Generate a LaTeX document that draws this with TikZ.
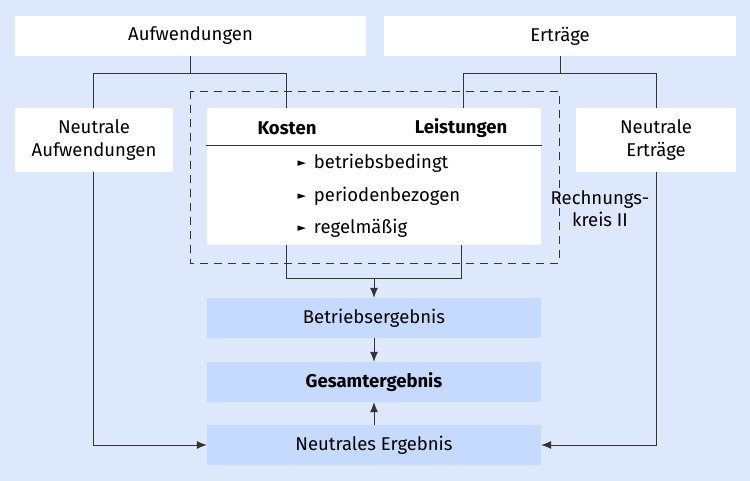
\documentclass[tikz,border=0pt]{standalone}
\usepackage{fontspec}
\setmainfont{Fira Sans}
\newfontfamily\symfont{DejaVu Sans}
\usetikzlibrary{arrows.meta}
\pgfdeclarelayer{back}
\pgfsetlayers{back,main}
\definecolor{bgblue}{RGB}{221, 232, 252}
\definecolor{resblue}{RGB}{198, 218, 253}
\definecolor{linegray}{RGB}{51, 51, 51}
\tikzset{
	box/.style={fill=white, inner sep=0, align=center, font=\fontsize{18.5pt}{23pt}\selectfont},
	resbox/.style={fill=resblue, inner sep=0, minimum width=334, minimum height=40, font=\fontsize{18.5pt}{20pt}\selectfont},
	txt/.style={font=\fontsize{18.5pt}{20pt}\selectfont},
	boldtxt/.style={font=\bfseries\fontsize{18.5pt}{20pt}\selectfont},
	conn/.style={line width=0.8pt, linegray},
	arr/.style={conn, -{Latex[length=10pt,width=8pt]}},
}
\newcommand{\bul}{{\symfont\fontsize{11pt}{11pt}\selectfont\raisebox{2pt}{►}}}
\begin{document}
\begin{tikzpicture}[x=1pt,y=-1pt,line cap=rect]
	% top boxes
	\node [box, minimum width=351, minimum height=40] (aufw) at (190.5,36.0) {Aufwendungen};
	\node [box, minimum width=352, minimum height=40] (ertr) at (560.0,36.0) {Erträge};
	% middle row
	\node [box, minimum width=158, minimum height=64] (naufw) at (94.0,140.0) {Neutrale\\Aufwendungen};
	\node [box, minimum width=160, minimum height=64] (nertr) at (656.0,140.0) {Neutrale\\Erträge};
	\node [box, minimum width=334, minimum height=137] (kosten) at (374.0,176.5) {};
	\draw [conn] (kosten.west |- 0,145.0) -- (kosten.east |- 0,145.0);
	\node [boldtxt] (kost) at (287.0,128.0) {Kosten};
	\node [boldtxt] (leist) at (461.0,128.0) {Leistungen};
	\node [txt, anchor=west] (m1) at (294.0,163.0) {\bul\hspace{8pt}betriebsbedingt};
	\node [txt, anchor=west] (m2) at (294.0,196.0) {\bul\hspace{8pt}periodenbezogen};
	\node [txt, anchor=west] (m3) at (294.0,228.0) {\bul\hspace{8pt}regelmäßig};
	\node [align=center, font=\fontsize{18.5pt}{22pt}\selectfont] (rk) at (600.0,209.0) {Rechnungs-\\kreis II};
	% results
	\node [resbox] (betr) at (374.0,318.0) {Betriebsergebnis};
	\node [resbox, boldtxt] (ges) at (374.0,382.0) {Gesamtergebnis};
	\node [resbox] (neut) at (374.0,445.0) {Neutrales Ergebnis};
	% connectors
	\begin{pgfonlayer}{back}
	\fill [bgblue] (0,0) rectangle (750,481);
	\draw [line width=0.8pt, linegray, dash pattern=on 8pt off 6pt, line cap=butt] (190.0,91.0) rectangle (559.0,263.0);
	\draw [conn] (aufw.south) -- ++(0,17) coordinate (aj);
	\draw [conn] (ertr.south) -- ++(0,17) coordinate (ej);
	\draw [arr] (aj) -| ([xshift=-113pt]neut.west) -- (neut.west);
	\draw [conn] (aj) -| ([xshift=80pt]kosten.north west);
	\draw [arr] (ej) -| ([xshift=115pt]neut.east) -- (neut.east);
	\draw [conn] (ej) -| ([xshift=-78pt]kosten.north east);
	\draw [conn] ([xshift=80pt]kosten.south west) -- ++(0,33) -| ([xshift=-80pt]kosten.south east);
	\draw [arr] ([yshift=-33pt]kosten.south) -- (betr.north);
	\draw [arr] (betr.south) -- (ges.north);
	\draw [arr] (neut.north) -- (ges.south);
	\end{pgfonlayer}
\end{tikzpicture}
\end{document}
